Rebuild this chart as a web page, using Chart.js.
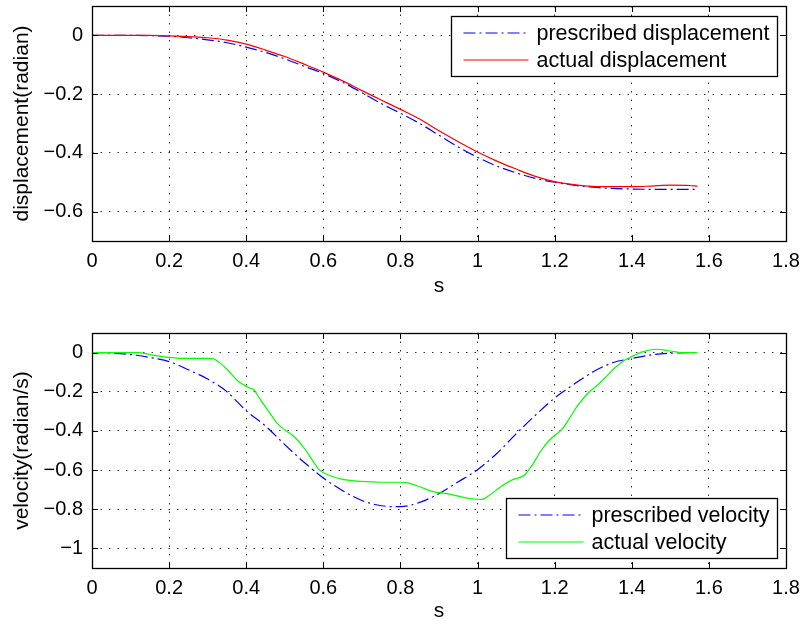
<!DOCTYPE html>
<html>
<head>
<meta charset="utf-8">
<script src="https://cdn.jsdelivr.net/npm/chart.js@4.4.1/dist/chart.umd.min.js"></script>
<style>
  html, body { margin: 0; padding: 0; background: #fff; }
  .panel { position: absolute; left: 0; width: 805px; }
</style>
</head>
<body>
<div class="panel" style="top:0;height:310px"><canvas id="disp" width="805" height="310"></canvas></div>
<div class="panel" style="top:310px;height:317px"><canvas id="vel" width="805" height="317"></canvas></div>
<script>
// time base shared by the prescribed curves and the displacement response (s)
const time = [0, 0.05, 0.1, 0.15, 0.2, 0.25, 0.3, 0.35, 0.4, 0.45, 0.5, 0.55, 0.6, 0.65, 0.7, 0.75,
    0.8, 0.85, 0.9, 0.95, 1.0, 1.05, 1.1, 1.15, 1.2, 1.25, 1.3, 1.35, 1.4, 1.45, 1.5, 1.55, 1.57];

const prescribedDisp = [0, 0, 0, -0.001, -0.003, -0.008, -0.015, -0.025, -0.040, -0.058, -0.080, -0.105,
    -0.130, -0.160, -0.195, -0.232, -0.265, -0.300, -0.340, -0.380, -0.415, -0.445, -0.468, -0.487,
    -0.500, -0.510, -0.517, -0.521, -0.523, -0.524, -0.524, -0.524, -0.524];
const actualDisp = [0, 0, 0, 0, -0.002, -0.004, -0.008, -0.016, -0.030, -0.050, -0.072, -0.098,
    -0.125, -0.155, -0.188, -0.220, -0.252, -0.285, -0.325, -0.362, -0.397, -0.428, -0.455, -0.480,
    -0.498, -0.508, -0.514, -0.515, -0.515, -0.513, -0.510, -0.511, -0.513];

const prescribedVel = [0, -0.002, -0.010, -0.025, -0.046, -0.088, -0.135, -0.200, -0.297, -0.375, -0.470,
    -0.560, -0.640, -0.705, -0.755, -0.782, -0.787, -0.765, -0.720, -0.660, -0.598, -0.515, -0.415,
    -0.320, -0.232, -0.162, -0.098, -0.052, -0.030, -0.012, -0.003, 0, 0];

// actual velocity has kinks, so it is sampled on its own time base
const velTime = [0, 0.05, 0.1, 0.12, 0.15, 0.2, 0.25, 0.3, 0.315, 0.33, 0.35, 0.38, 0.41, 0.42, 0.435,
    0.46, 0.48, 0.5, 0.515, 0.53, 0.555, 0.575, 0.59, 0.62, 0.65, 0.7, 0.75, 0.8, 0.82, 0.85, 0.885,
    0.92, 0.95, 0.98, 1.01, 1.03, 1.06, 1.09, 1.12, 1.14, 1.165, 1.19, 1.22, 1.24, 1.26, 1.285, 1.31,
    1.33, 1.355, 1.38, 1.4, 1.43, 1.465, 1.5, 1.53, 1.57];
const actualVel = [0, 0, 0, 0, -0.010, -0.024, -0.030, -0.030, -0.032, -0.050, -0.085, -0.148, -0.182,
    -0.190, -0.235, -0.305, -0.360, -0.395, -0.415, -0.440, -0.500, -0.560, -0.600, -0.630, -0.647,
    -0.658, -0.662, -0.662, -0.665, -0.685, -0.710, -0.720, -0.733, -0.745, -0.750, -0.730, -0.685,
    -0.650, -0.628, -0.580, -0.500, -0.440, -0.390, -0.330, -0.270, -0.210, -0.168, -0.130, -0.080,
    -0.040, -0.020, 0.005, 0.017, 0.008, 0, 0];

const xTicks = [0, 0.2, 0.4, 0.6, 0.8, 1, 1.2, 1.4, 1.6, 1.8];
const dispTicks = [-0.6, -0.4, -0.2, 0];
const velTicks = [-1, -0.8, -0.6, -0.4, -0.2, 0];

const FAMILY = '"Liberation Sans", Arial, Helvetica, sans-serif';
const FONT = { family: FAMILY, size: 20 };
const TITLE_FONT = { family: FAMILY, size: 21 };
const fmt = (v) => String(v).replace('-', '\u2212');
const pts = (xs, ys) => xs.map((x, i) => ({ x, y: ys[i] }));

// axes box with inward ticks on all four sides
const frame = {
    id: 'frame',
    afterDraw(chart) {
        const { ctx, chartArea: a, scales } = chart;
        ctx.save();
        ctx.strokeStyle = '#000';
        ctx.lineWidth = 1;
        ctx.beginPath();
        scales.x.ticks.forEach((t) => {
            const px = Math.round(scales.x.getPixelForValue(t.value)) + 0.5;
            ctx.moveTo(px, a.bottom); ctx.lineTo(px, a.bottom - 6);
            ctx.moveTo(px, a.top); ctx.lineTo(px, a.top + 6);
        });
        scales.y.ticks.forEach((t) => {
            const py = Math.round(scales.y.getPixelForValue(t.value)) + 0.5;
            ctx.moveTo(a.left, py); ctx.lineTo(a.left + 6, py);
            ctx.moveTo(a.right, py); ctx.lineTo(a.right - 6, py);
        });
        ctx.stroke();
        ctx.lineWidth = 1.3;
        ctx.strokeRect(Math.round(a.left) + 0.5, Math.round(a.top) + 0.5, Math.round(a.right - a.left), Math.round(a.bottom - a.top));
        ctx.restore();
    }
};

// MATLAB-style boxed legend
const boxLegend = {
    id: 'boxLegend',
    afterDraw(chart, args, opts) {
        const { ctx, chartArea: a } = chart;
        const sets = chart.data.datasets;
        ctx.save();
        ctx.font = `21.5px ${FAMILY}`;
        const tw = Math.max(...sets.map((d) => ctx.measureText(d.label).width));
        const w = Math.round(85 + tw + 8), h = 60;
        const x = Math.round(a.right - 9 - w) + 0.5;
        const y = Math.round(opts.corner === 'bottom' ? a.bottom - 10 - h : a.top + 10) + 0.5;
        ctx.fillStyle = '#fff';
        ctx.fillRect(x, y, w, h);
        ctx.strokeStyle = '#000';
        ctx.lineWidth = 1.3;
        ctx.strokeRect(x, y, w, h);
        sets.forEach((d, i) => {
            const cy = Math.round(y + 16.5 + i * 26.5);
            ctx.strokeStyle = d.borderColor;
            ctx.lineWidth = d.borderWidth;
            ctx.setLineDash(d.borderDash || []);
            ctx.beginPath();
            ctx.moveTo(x + 12, cy); ctx.lineTo(x + 77, cy);
            ctx.stroke();
            ctx.setLineDash([]);
            ctx.fillStyle = '#000';
            ctx.textBaseline = 'middle';
            ctx.fillText(d.label, x + 85, cy + 1);
        });
        ctx.restore();
    }
};

function build(id, cfg) {
    const setTicks = (list) => (scale) => { scale.ticks = list.map((value) => ({ value })); };
    return new Chart(document.getElementById(id), {
        type: 'line',
        data: { datasets: [
            { label: cfg.labels[0], data: cfg.prescribed, borderColor: '#0000ff', borderWidth: 1.2,
              borderDash: [12, 4, 2, 4], pointRadius: 0, fill: false, order: 1, cubicInterpolationMode: 'monotone' },
            { label: cfg.labels[1], data: cfg.actual, borderColor: cfg.color, borderWidth: 1.2,
              pointRadius: 0, fill: false, order: 0, cubicInterpolationMode: 'monotone' },
        ]},
        options: {
            responsive: false, animation: false, devicePixelRatio: 1,
            layout: { padding: { left: 0, right: 19, top: cfg.padTop, bottom: 0 } },
            plugins: { legend: { display: false }, tooltip: { enabled: false }, boxLegend: { corner: cfg.corner } },
            scales: {
                x: {
                    type: 'linear', min: 0, max: 1.8,
                    afterBuildTicks: setTicks(xTicks),
                    afterFit: (s) => { s.height = cfg.xHeight; s.paddingLeft = 0; s.paddingRight = 0; },
                    grid: { color: 'rgba(0,0,0,0.8)', lineWidth: 1, drawTicks: false },
                    border: { display: false, dash: [1.5, 7] },
                    ticks: { color: '#000', font: FONT, padding: 8, maxRotation: 0, autoSkip: false, callback: fmt },
                    title: { display: true, text: 's', color: '#000', font: TITLE_FONT, padding: { top: 0, bottom: cfg.titlePad } },
                },
                y: {
                    type: 'linear', min: cfg.yMin, max: cfg.yMax,
                    afterBuildTicks: setTicks(cfg.yTicks),
                    afterFit: (s) => { s.width = 92; s.paddingTop = 0; s.paddingBottom = 0; },
                    grid: { color: 'rgba(0,0,0,0.8)', lineWidth: 1, drawTicks: false },
                    border: { display: false, dash: [1.5, 7] },
                    ticks: { color: '#000', font: FONT, padding: 9, autoSkip: false, callback: fmt },
                    title: { display: true, text: cfg.yTitle, color: '#000', font: TITLE_FONT, padding: { top: 10, bottom: 0 } },
                },
            },
        },
        plugins: [frame, boxLegend],
    });
}

build('disp', {
    labels: ['prescribed displacement', 'actual displacement'], color: '#ff0000',
    prescribed: pts(time, prescribedDisp), actual: pts(time, actualDisp),
    yMin: -0.7, yMax: 0.1, yTicks: dispTicks, yTitle: 'displacement(radian)',
    padTop: 6, xHeight: 69, titlePad: 11.5, corner: 'top',
});
build('vel', {
    labels: ['prescribed velocity', 'actual velocity'], color: '#00ff00',
    prescribed: pts(time, prescribedVel), actual: pts(velTime, actualVel),
    yMin: -1.1, yMax: 0.1, yTicks: velTicks, yTitle: 'velocity(radian/s)',
    padTop: 23, xHeight: 59, titlePad: 3.5, corner: 'bottom',
});
</script>
</body>
</html>
